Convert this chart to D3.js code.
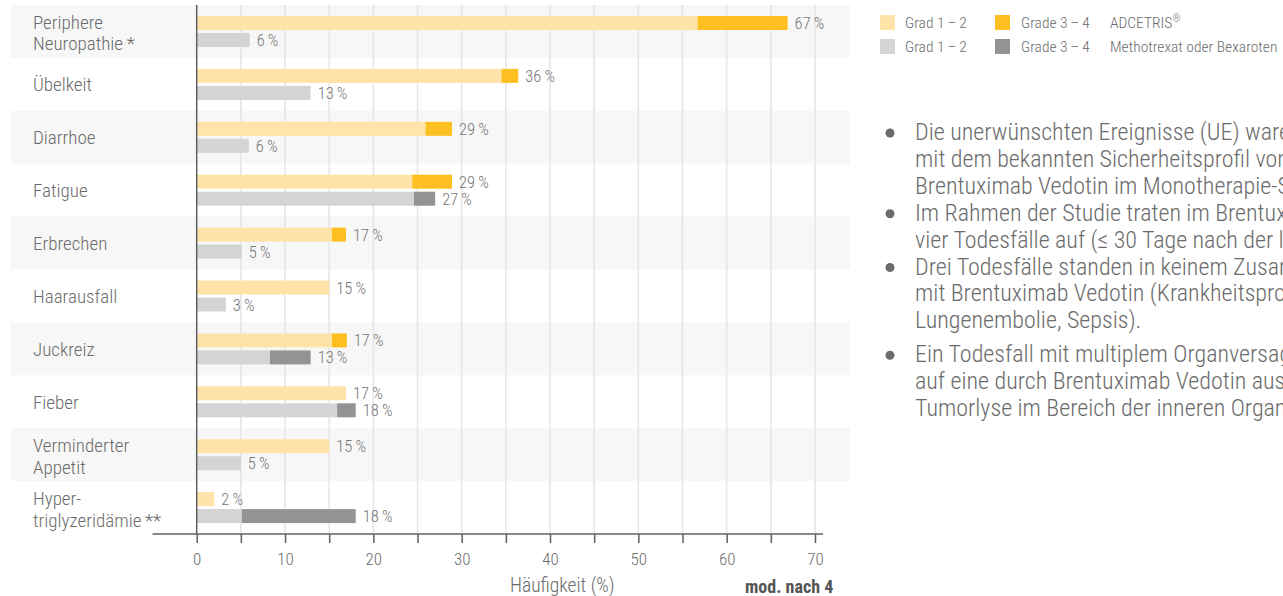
<!DOCTYPE html>
<html>
<head>
<meta charset="utf-8">
<script src="https://cdn.jsdelivr.net/npm/d3@7/dist/d3.min.js"></script>
<style>
  html, body { margin: 0; padding: 0; background: #ffffff; overflow: hidden; }
  svg { display: block; }
</style>
</head>
<body>
<svg id="chart" width="1283" height="596"></svg>
<script>
// ---------- DATA ----------
const categories = [
  "Periphere\nNeuropathie\u2009*",
  "Übelkeit",
  "Diarrhoe",
  "Fatigue",
  "Erbrechen",
  "Haarausfall",
  "Juckreiz",
  "Fieber",
  "Verminderter\nAppetit",
  "Hyper-\ntriglyzeridämie\u2009**"
];
// ADCETRIS
const adcGrade12 = [56.7, 34.5, 25.9, 24.4, 15.3, 15.0, 15.3, 16.9, 15.0, 2.0];
const adcGrade34 = [10.2, 1.9, 3.0, 4.5, 1.6, 0, 1.7, 0, 0, 0];
const adcLabels  = [67, 36, 29, 29, 17, 15, 17, 17, 15, 2];
// Methotrexat oder Bexaroten
const mtxGrade12 = [6.0, 12.9, 5.9, 24.6, 5.1, 3.3, 8.3, 15.9, 5.0, 5.1];
const mtxGrade34 = [0, 0, 0, 2.4, 0, 0, 4.6, 2.1, 0, 12.9];
const mtxLabels  = [6, 13, 6, 27, 5, 3, 13, 18, 5, 18];

const xTicks = [0, 5, 10, 15, 20, 25, 30, 35, 40, 45, 50, 55, 60, 65, 70];
const xTickLabels = [0, 10, 20, 30, 40, 50, 60, 70];
const xAxisTitle = "Häufigkeit (%)";
const sourceNote = "mod. nach 4";

const legendRows = [
  { series: "ADCETRIS", sup: "®", g12: "Grad 1\u2009–\u20092", g34: "Grade 3\u2009–\u20094" },
  { series: "Methotrexat oder Bexaroten", sup: "", g12: "Grad 1\u2009–\u20092", g34: "Grade 3\u2009–\u20094" }
];

const bullets = [
  ["Die unerwünschten Ereignisse (UE) waren konsistent",
   "mit dem bekannten Sicherheitsprofil von",
   "Brentuximab Vedotin im Monotherapie-Setting."],
  ["Im Rahmen der Studie traten im Brentuximab-Vedotin-Arm",
   "vier Todesfälle auf (≤ 30 Tage nach der letzten Dosis)."],
  ["Drei Todesfälle standen in keinem Zusammenhang",
   "mit Brentuximab Vedotin (Krankheitsprogression,",
   "Lungenembolie, Sepsis)."],
  ["Ein Todesfall mit multiplem Organversagen war",
   "auf eine durch Brentuximab Vedotin ausgelöste",
   "Tumorlyse im Bereich der inneren Organe zurückzuführen."]
];

// ---------- STYLE ----------
const COL = {
  adc12: "#FFE3A9", adc34: "#FDC020",
  mtx12: "#D4D4D4", mtx34: "#939393",
  band: "#F7F7F7", grid: "#E6E6E6",
  axis: "#5f5f5f", text: "#6b6b6b", value: "#767676", note: "#555555"
};
const FONT = "'Roboto Condensed', 'Liberation Sans Narrow', 'Arial Narrow', sans-serif";
const LIGHT = 300;

const svg = d3.select("#chart").style("font-family", FONT).style("font-weight", LIGHT);

// ---------- SCALES ----------
const x = d3.scaleLinear().domain([0, 70]).range([196.7, 815]);
const y = d3.scaleBand().domain(categories).range([5, 534]).paddingInner(0).paddingOuter(0);
const sub = d3.scaleBand().domain(["adc", "mtx"]).range([11, 42]).paddingInner(3 / 17).paddingOuter(0);

const rows = categories.map((c, i) => ({
  cat: c, i,
  adc12: adcGrade12[i], adc34: adcGrade34[i], adcL: adcLabels[i],
  mtx12: mtxGrade12[i], mtx34: mtxGrade34[i], mtxL: mtxLabels[i]
}));

// ---------- BANDS ----------
svg.append("g").selectAll("rect").data(rows.filter(d => d.i % 2 === 0)).join("rect")
  .attr("x", 11).attr("width", 850 - 11)
  .attr("y", d => y(d.cat)).attr("height", y.bandwidth())
  .attr("fill", COL.band);

// ---------- GRID ----------
svg.append("g").selectAll("line").data(xTicks.filter(t => t > 0)).join("line")
  .attr("x1", d => x(d)).attr("x2", d => x(d))
  .attr("y1", y.range()[0]).attr("y2", y.range()[1])
  .attr("stroke", COL.grid).attr("stroke-width", 1.6);

// ---------- BARS ----------
const gBars = svg.append("g");
function stacked(key12, key34, subKey, c12, c34) {
  gBars.append("g").selectAll("rect").data(rows).join("rect")
    .attr("x", x(0)).attr("width", d => x(d[key12]) - x(0))
    .attr("y", d => y(d.cat) + sub(subKey)).attr("height", sub.bandwidth())
    .attr("fill", c12);
  gBars.append("g").selectAll("rect").data(rows.filter(d => d[key34] > 0)).join("rect")
    .attr("x", d => x(d[key12])).attr("width", d => x(d[key12] + d[key34]) - x(d[key12]))
    .attr("y", d => y(d.cat) + sub(subKey)).attr("height", sub.bandwidth())
    .attr("fill", c34);
}
stacked("adc12", "adc34", "adc", COL.adc12, COL.adc34);
stacked("mtx12", "mtx34", "mtx", COL.mtx12, COL.mtx34);

// value labels
function valueLabels(key12, key34, keyL, subKey) {
  gBars.append("g").selectAll("text").data(rows).join("text")
    .attr("x", d => x(d[key12] + d[key34]) + 7)
    .attr("y", d => y(d.cat) + sub(subKey) + sub.bandwidth() / 2 + 6)
    .attr("font-size", 16.5).attr("fill", COL.value)
    .text(d => d[keyL] + "\u2009%");
}
valueLabels("adc12", "adc34", "adcL", "adc");
valueLabels("mtx12", "mtx34", "mtxL", "mtx");

// ---------- CATEGORY LABELS ----------
const gCat = svg.append("g");
rows.forEach(d => {
  const lines = d.cat.split("\n");
  const mid = y(d.cat) + y.bandwidth() / 2;
  const t = gCat.append("text").attr("x", 33).attr("font-size", 19).attr("fill", COL.text);
  if (lines.length === 1) {
    t.attr("y", mid + 7).text(lines[0]);
  } else {
    lines.forEach((ln, k) => {
      t.append("tspan").attr("x", 33).attr("y", mid - 2.5 + k * 21.5).text(ln);
    });
  }
});

// ---------- AXES ----------
svg.append("line")
  .attr("x1", x(0)).attr("x2", x(0))
  .attr("y1", y.range()[0]).attr("y2", y.range()[1])
  .attr("stroke", COL.axis).attr("stroke-width", 1.5);

const gx = svg.append("g").attr("transform", `translate(0,${y.range()[1]})`)
  .call(d3.axisBottom(x).tickValues(xTicks).tickSize(9).tickPadding(6)
    .tickFormat(d => xTickLabels.includes(d) ? d : ""));
gx.select(".domain").remove();
gx.selectAll(".tick line").attr("stroke", COL.axis).attr("stroke-width", 1.5);
gx.selectAll(".tick text").attr("font-size", 17).attr("fill", COL.text)
  .attr("font-family", FONT).attr("font-weight", LIGHT).attr("dy", "0.95em");
gx.append("line")
  .attr("x1", x(-5)).attr("x2", x(70.9))
  .attr("y1", 0).attr("y2", 0)
  .attr("stroke", COL.axis).attr("stroke-width", 1.5);

svg.append("text").attr("x", 510).attr("y", 592)
  .attr("font-size", 19.5).attr("fill", COL.text).text(xAxisTitle);
svg.append("text").attr("x", 745).attr("y", 593)
  .attr("font-size", 18).attr("font-weight", "bold").attr("fill", COL.note).text(sourceNote);

// ---------- LEGEND ----------
const gLeg = svg.append("g");
legendRows.forEach((r, k) => {
  const ty = 15 + k * 24;
  const c12 = k === 0 ? COL.adc12 : COL.mtx12;
  const c34 = k === 0 ? COL.adc34 : COL.mtx34;
  gLeg.append("rect").attr("x", 880).attr("y", ty).attr("width", 15).attr("height", 15).attr("fill", c12);
  gLeg.append("text").attr("x", 905).attr("y", ty + 13).attr("font-size", 15.5).attr("fill", COL.text).text(r.g12);
  gLeg.append("rect").attr("x", 995).attr("y", ty).attr("width", 15).attr("height", 15).attr("fill", c34);
  gLeg.append("text").attr("x", 1021).attr("y", ty + 13).attr("font-size", 15.5).attr("fill", COL.text).text(r.g34);
  const st = gLeg.append("text").attr("x", 1110).attr("y", ty + 13).attr("font-size", 15.5).attr("fill", COL.text);
  st.append("tspan").text(r.series);
  if (r.sup) st.append("tspan").attr("font-size", 10).attr("dy", -6).text(r.sup);
});

// ---------- BULLET TEXT ----------
const gB = svg.append("g");
let base = 140;
bullets.forEach((lines, bi) => {
  if (bi === 3) base += 7;
  gB.append("circle").attr("cx", 890).attr("cy", base - 7).attr("r", 4.5).attr("fill", COL.text);
  lines.forEach(ln => {
    gB.append("text").attr("x", 915).attr("y", base).attr("font-size", 24).attr("fill", COL.text).text(ln);
    base += 26.9;
  });
});
</script>
</body>
</html>
